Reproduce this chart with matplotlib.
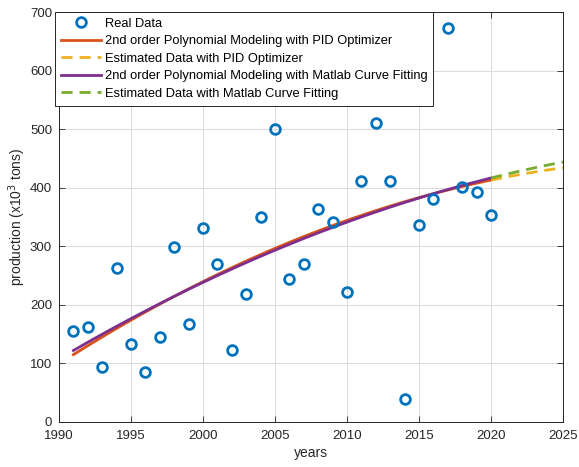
import numpy as np
import matplotlib
matplotlib.use("Agg")
import matplotlib.pyplot as plt

plt.rcParams['font.family'] = ['Liberation Sans', 'DejaVu Sans']

# Observed yearly production (x10^3 tons)
years = np.arange(1991, 2021)
production = [155, 162, 94, 263, 133, 85, 145, 298, 167, 331,
              269, 123, 218, 350, 500, 244, 269, 363, 341, 222,
              411, 510, 412, 40, 337, 381, 672, 402, 392, 353]

# Second-order model tuned with the PID optimizer, in powers of (year - 1991)
pid_coeffs = [-0.1787, 15.46, 115.0]   # c2, c1, c0
pid_origin = 1991

fit_years = np.linspace(1991, 2020, 200)
est_years = np.linspace(2020, 2025, 50)

# Ordinary least-squares quadratic (curve fitting tool)
ls_coeffs = np.polyfit(years - pid_origin, production, 2)

def pid_model(y):
    return np.polyval(pid_coeffs, y - pid_origin)

def ls_model(y):
    return np.polyval(ls_coeffs, y - pid_origin)

c_blue = '#0072BD'
c_orange = '#D95319'
c_yellow = '#EDB120'
c_purple = '#7E2F8E'
c_green = '#77AC30'

fig = plt.figure(figsize=(5.79, 4.67), dpi=100)
ax = fig.add_axes([59/579, 1 - 422/467, (563 - 59)/579, (422 - 12)/467])

ax.plot(years, production, 'o', mfc='none', mec=c_blue, mew=2.0, ms=7,
        label='Real Data', zorder=5)
ax.plot(fit_years, pid_model(fit_years), '-', color=c_orange, lw=2.0,
        label='2nd order Polynomial Modeling with PID Optimizer')
ax.plot(est_years, pid_model(est_years), '--', color=c_yellow, lw=2.0,
        dashes=(4, 2.5), label='Estimated Data with PID Optimizer')
ax.plot(fit_years, ls_model(fit_years), '-', color=c_purple, lw=2.0,
        label='2nd order Polynomial Modeling with Matlab Curve Fitting')
ax.plot(est_years, ls_model(est_years), '--', color=c_green, lw=2.0,
        dashes=(4, 2.5), label='Estimated Data with Matlab Curve Fitting')

ax.set_xlim(1990, 2025)
ax.set_ylim(0, 700)
ax.set_xticks(np.arange(1990, 2026, 5))
ax.set_yticks(np.arange(0, 701, 100))
ax.grid(True, color='#dcdcdc', lw=0.8)
ax.set_axisbelow(True)
ax.tick_params(direction='in', top=True, right=True, length=4,
               labelsize=9.5, colors='#262626', width=0.6)
ax.tick_params(axis='x', pad=6)
ax.tick_params(axis='y', pad=5)
for s in ax.spines.values():
    s.set_color('#262626')
    s.set_linewidth(0.7)

ax.set_xlabel('years', fontsize=10, color='#262626', labelpad=3)
ax.set_ylabel('production (x10$^3$ tons)', fontsize=10, color='#262626',
              labelpad=1)

leg = ax.legend(loc='upper left', bbox_to_anchor=(55/579, 1 - 12/467),
                bbox_transform=fig.transFigure, fontsize=9.3, fancybox=False,
                framealpha=1, edgecolor='#262626', handlelength=3.1,
                handletextpad=0.3, borderpad=0.45, labelspacing=0.42,
                borderaxespad=0)
leg.get_frame().set_linewidth(0.7)

fig.savefig('out.png', dpi=100)
